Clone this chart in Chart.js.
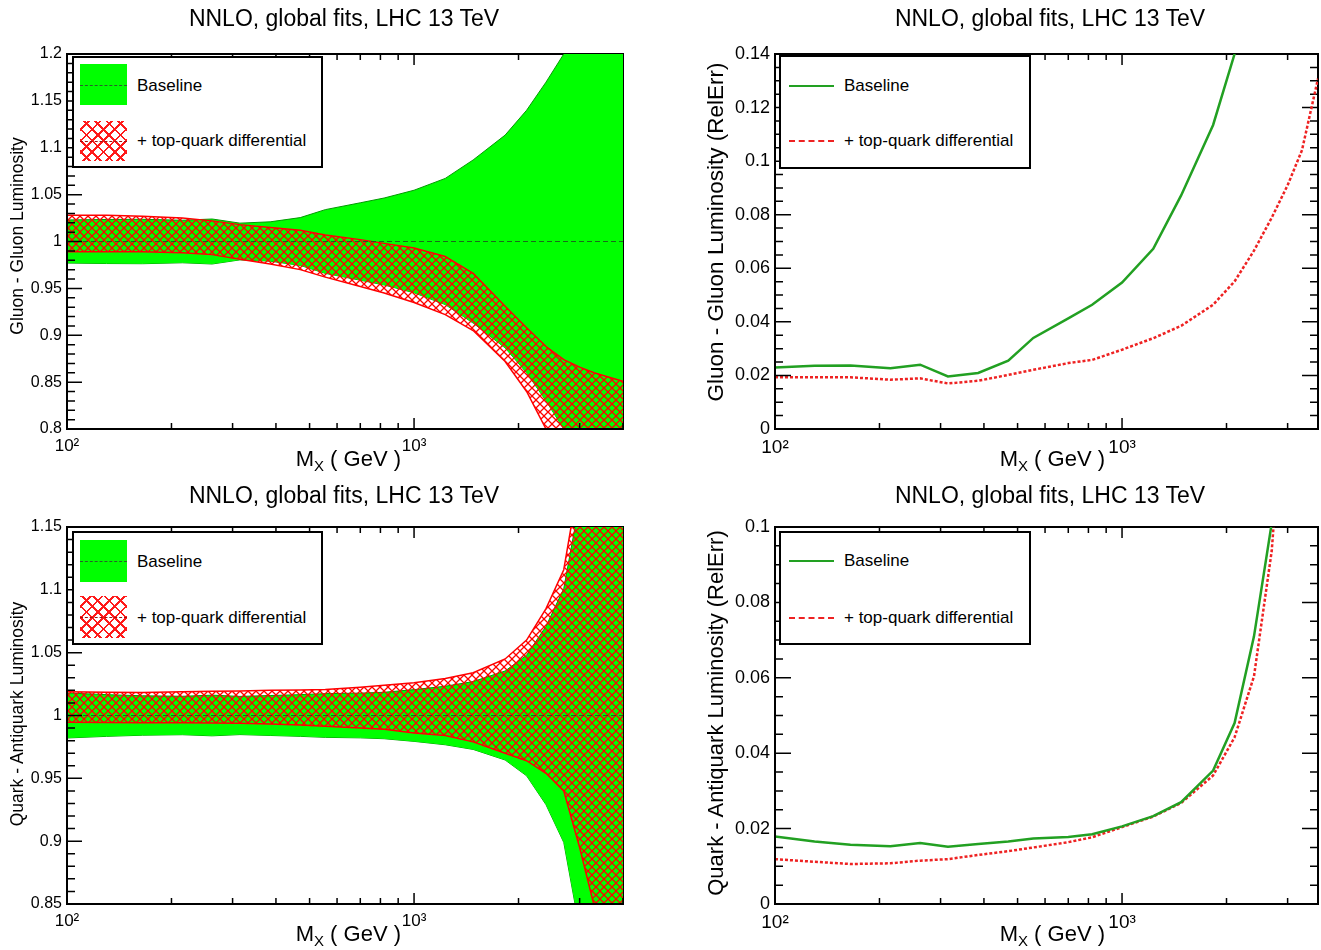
<!DOCTYPE html>
<html>
<head>
<meta charset="utf-8">
<script src="https://cdn.jsdelivr.net/npm/chart.js@4.4.1/dist/chart.umd.min.js"></script>
<style>
body { margin: 0; background: #fff; }
#page { position: relative; width: 1321px; height: 950px; overflow: hidden; font-family: "Liberation Sans", Arial, sans-serif; color: #000; }
canvas { position: absolute; }
.title { position: absolute; font-size: 23px; white-space: nowrap; transform: translate(-50%, -50%); }
.ytitle { position: absolute; white-space: nowrap; line-height: 1; transform: translate(-50%, -50%) rotate(-90deg); }
.xtitle { position: absolute; font-size: 22px; line-height: 22px; white-space: nowrap; }
.xtitle sub { font-size: 15px; vertical-align: -5px; }
.legend { position: absolute; border: 2px solid #000; background: #fff; box-sizing: border-box; }
.legend .txt { position: absolute; font-size: 17px; line-height: 1; white-space: nowrap; transform: translateY(-50%); }
.sw { position: absolute; }
.green { background: #00ff00; }
.hatch { background-color: #fff;
  background-image: repeating-linear-gradient(45deg, transparent 0 6px, #ff1a1a 6px 8px),
                    repeating-linear-gradient(-45deg, transparent 0 6px, #ff1a1a 6px 8px); }
.mid { position: absolute; left: 0; right: 0; top: 50%; height: 0; }
.ln { position: absolute; height: 0; }
</style>
</head>
<body>
<div id="page">
  <canvas id="tl" width="660" height="475" style="left:0;top:0"></canvas>
  <canvas id="tr" width="661" height="475" style="left:660px;top:0"></canvas>
  <canvas id="bl" width="660" height="475" style="left:0;top:475px"></canvas>
  <canvas id="br" width="661" height="475" style="left:660px;top:475px"></canvas>

  <div class="title" style="left:344px;top:18px">NNLO, global fits, LHC 13 TeV</div>
  <div class="title" style="left:1050px;top:18px">NNLO, global fits, LHC 13 TeV</div>
  <div class="title" style="left:344px;top:495px">NNLO, global fits, LHC 13 TeV</div>
  <div class="title" style="left:1050px;top:495px">NNLO, global fits, LHC 13 TeV</div>

  <div class="ytitle" style="left:18px;top:236px;font-size:17.5px">Gluon - Gluon Luminosity</div>
  <div class="ytitle" style="left:716px;top:232px;font-size:22.5px">Gluon - Gluon Luminosity (RelErr)</div>
  <div class="ytitle" style="left:18px;top:714px;font-size:17.5px">Quark - Antiquark Luminosity</div>
  <div class="ytitle" style="left:716px;top:713px;font-size:22px">Quark - Antiquark Luminosity (RelErr)</div>

  <div class="xtitle" style="right:920px;top:448px">M<sub>X</sub> ( GeV )</div>
  <div class="xtitle" style="right:216px;top:448px">M<sub>X</sub> ( GeV )</div>
  <div class="xtitle" style="right:920px;top:923px">M<sub>X</sub> ( GeV )</div>
  <div class="xtitle" style="right:216px;top:923px">M<sub>X</sub> ( GeV )</div>

  <div class="legend" style="left:72px;top:56px;width:251px;height:112px">
    <div class="sw green" style="left:6px;top:6px;width:47px;height:41px"><div class="mid" style="border-top:1px dashed #2b5e2b"></div></div>
    <div class="txt" style="left:63px;top:27px">Baseline</div>
    <div class="sw hatch" style="left:6px;top:63px;width:47px;height:40px"><div class="mid" style="border-top:1.5px dashed #a01010"></div></div>
    <div class="txt" style="left:63px;top:82px">+ top-quark differential</div>
  </div>
  <div class="legend" style="left:779px;top:55px;width:252px;height:114px">
    <div class="ln" style="left:8px;top:28px;width:45px;border-top:2px solid #22a022"></div>
    <div class="txt" style="left:63px;top:28px">Baseline</div>
    <div class="ln" style="left:8px;top:83px;width:45px;border-top:2px dashed #ee2222"></div>
    <div class="txt" style="left:63px;top:83px">+ top-quark differential</div>
  </div>
  <div class="legend" style="left:72px;top:531px;width:251px;height:114px">
    <div class="sw green" style="left:6px;top:7px;width:47px;height:42px"><div class="mid" style="border-top:1px dashed #2b5e2b"></div></div>
    <div class="txt" style="left:63px;top:28px">Baseline</div>
    <div class="sw hatch" style="left:6px;top:63px;width:47px;height:42px"><div class="mid" style="border-top:1.5px dashed #a01010"></div></div>
    <div class="txt" style="left:63px;top:84px">+ top-quark differential</div>
  </div>
  <div class="legend" style="left:779px;top:531px;width:252px;height:114px">
    <div class="ln" style="left:8px;top:27px;width:45px;border-top:2px solid #22a022"></div>
    <div class="txt" style="left:63px;top:27px">Baseline</div>
    <div class="ln" style="left:8px;top:84px;width:45px;border-top:2px dashed #ee2222"></div>
    <div class="txt" style="left:63px;top:84px">+ top-quark differential</div>
  </div>
</div>
<script>
// mass points (GeV)
const mx = [100, 130, 165, 215, 262, 315, 385, 470, 555, 700, 820, 1000, 1230, 1480, 1830, 2110, 2400, 2700, 3000, 3300, 3670, 4000];

// gluon-gluon luminosity ratio bands (top left)
const ggBaseUp = [1.023, 1.0235, 1.0237, 1.0227, 1.024, 1.0196, 1.021, 1.0255, 1.034, 1.0413, 1.0464, 1.0547, 1.0673, 1.087, 1.1135, 1.14, 1.17, 1.2, 1.235, 1.27, 1.32, 1.37];
const ggBaseLo = [0.977, 0.9765, 0.9763, 0.9773, 0.976, 0.9804, 0.979, 0.9745, 0.966, 0.9587, 0.9536, 0.9453, 0.9327, 0.913, 0.8865, 0.86, 0.83, 0.8, 0.765, 0.73, 0.68, 0.63];
const ggTopUp = [1.028, 1.028, 1.027, 1.025, 1.022, 1.018, 1.015, 1.012, 1.007, 1.002, 0.998, 0.993, 0.984, 0.966, 0.931, 0.908, 0.888, 0.874, 0.866, 0.86, 0.855, 0.851];
const ggTopLo = [0.989, 0.989, 0.989, 0.988, 0.986, 0.981, 0.976, 0.97, 0.962, 0.952, 0.945, 0.935, 0.922, 0.905, 0.872, 0.84, 0.8, 0.76, 0.72, 0.68, 0.63, 0.58];

// gluon-gluon relative errors (top right)
const ggErrBase = [0.023, 0.0236, 0.0237, 0.0227, 0.024, 0.0196, 0.0209, 0.0255, 0.034, 0.0413, 0.0464, 0.0547, 0.0673, 0.0872, 0.1135, 0.14, 0.17, 0.2, 0.235, 0.27, 0.32, 0.37];
const ggErrTop = [0.0193, 0.0193, 0.0193, 0.0184, 0.0189, 0.017, 0.018, 0.0202, 0.0221, 0.0246, 0.0258, 0.0296, 0.0339, 0.0385, 0.0464, 0.0551, 0.0666, 0.0789, 0.091, 0.1041, 0.1308, 0.16];

// quark-antiquark luminosity ratio bands (bottom left)
const qqBaseUp = [1.0179, 1.0166, 1.0157, 1.0153, 1.0162, 1.0152, 1.0159, 1.0166, 1.0174, 1.0178, 1.0185, 1.0206, 1.0233, 1.027, 1.0354, 1.048, 1.071, 1.101, 1.17, 1.25, 1.35, 1.45];
const qqBaseLo = [0.9821, 0.9834, 0.9843, 0.9847, 0.9838, 0.9848, 0.9841, 0.9834, 0.9826, 0.9822, 0.9815, 0.9794, 0.9767, 0.973, 0.9646, 0.952, 0.929, 0.899, 0.83, 0.75, 0.65, 0.55];
const qqTopUp = [1.0188, 1.0185, 1.0184, 1.0188, 1.0192, 1.0195, 1.02, 1.0203, 1.0206, 1.0225, 1.024, 1.026, 1.0295, 1.034, 1.045, 1.06, 1.085, 1.116, 1.19, 1.3, 1.4, 1.5];
const qqTopLo = [0.9947, 0.9945, 0.9942, 0.9942, 0.994, 0.9938, 0.9932, 0.9925, 0.9915, 0.99, 0.989, 0.986, 0.984, 0.979, 0.97, 0.964, 0.954, 0.94, 0.895, 0.849, 0.8, 0.75];

// quark-antiquark relative errors (bottom right)
const qqErrBase = [0.0179, 0.0166, 0.0157, 0.0153, 0.0162, 0.0152, 0.0159, 0.0166, 0.0174, 0.0178, 0.0185, 0.0206, 0.0233, 0.027, 0.0354, 0.048, 0.071, 0.101, 0.17, 0.25, 0.35, 0.45];
const qqErrTop = [0.0119, 0.0112, 0.0106, 0.0108, 0.0115, 0.0119, 0.013, 0.014, 0.015, 0.0164, 0.0177, 0.0204, 0.0232, 0.0268, 0.0341, 0.0442, 0.0604, 0.0937, 0.15, 0.22, 0.32, 0.42];

const xTickVals = [100, 200, 300, 400, 500, 600, 700, 800, 900, 1000, 2000, 3000, 4000];
const xLabels = { 100: '10\u00b2', 1000: '10\u00b3' };

const FONT = '"Liberation Sans", Arial, sans-serif';
const pts = ys => mx.map((x, i) => ({ x: x, y: ys[i] }));

const hatch = (() => {
    const c = document.createElement('canvas');
    c.width = 8; c.height = 8;
    const g = c.getContext('2d');
    g.strokeStyle = '#ff0000';
    g.lineWidth = 1.3;
    g.beginPath();
    g.moveTo(-1, -1); g.lineTo(9, 9);
    g.moveTo(9, -1); g.lineTo(-1, 9);
    g.stroke();
    return g.createPattern(c, 'repeat');
})();

// ROOT style frame: ticks pointing inwards on all four sides
function drawSides(chart, o, sides) {
    const ctx = chart.ctx, a = chart.chartArea;
    const xs = chart.scales.x, ys = chart.scales.y;
    ctx.save();
    ctx.strokeStyle = '#000';
    sides.forEach(side => {
        ctx.lineWidth = 2;
        ctx.beginPath();
        if (side === 'top') { ctx.moveTo(a.left - 1, a.top); ctx.lineTo(a.right + 1, a.top); }
        if (side === 'bottom') { ctx.moveTo(a.left - 1, a.bottom); ctx.lineTo(a.right + 1, a.bottom); }
        if (side === 'left') { ctx.moveTo(a.left, a.top - 1); ctx.lineTo(a.left, a.bottom + 1); }
        if (side === 'right') { ctx.moveTo(a.right, a.top - 1); ctx.lineTo(a.right, a.bottom + 1); }
        ctx.stroke();
        ctx.lineWidth = 1.5;
        ctx.beginPath();
        if (side === 'top' || side === 'bottom') {
            const y0 = side === 'top' ? a.top : a.bottom;
            const dir = side === 'top' ? 1 : -1;
            xTickVals.forEach(v => {
                if (v < xs.min || v > xs.max) return;
                const px = xs.getPixelForValue(v);
                const len = xLabels[v] ? 11 : 6;
                ctx.moveTo(px, y0);
                ctx.lineTo(px, y0 + dir * len);
            });
        } else {
            const x0 = side === 'left' ? a.left : a.right;
            const dir = side === 'left' ? 1 : -1;
            for (let k = 0; ; k++) {
                const v = o.yMin + k * o.yStep;
                if (v > o.yMax + 1e-9) break;
                const q = v / o.yMajor;
                const len = Math.abs(q - Math.round(q)) < 1e-6 ? o.majLen : o.minLen;
                const py = ys.getPixelForValue(v);
                ctx.moveTo(x0, py);
                ctx.lineTo(x0 + dir * len, py);
            }
        }
        ctx.stroke();
    });
    ctx.restore();
}

const rootFrame = {
    id: 'rootFrame',
    beforeDatasetsDraw(chart, args, o) { drawSides(chart, o, ['top', 'right']); },
    afterDatasetsDraw(chart, args, o) { drawSides(chart, o, ['left', 'bottom']); }
};

function makeChart(id, datasets, cfg) {
    return new Chart(document.getElementById(id), {
        type: 'line',
        data: { datasets: datasets },
        options: {
            responsive: false,
            animation: false,
            devicePixelRatio: 1,
            layout: { padding: { left: 0, top: cfg.top, right: cfg.right, bottom: 0 } },
            elements: { point: { radius: 0 }, line: { tension: 0 } },
            plugins: {
                legend: { display: false },
                tooltip: { enabled: false },
                rootFrame: cfg.frame
            },
            scales: {
                x: {
                    type: 'logarithmic',
                    min: 100,
                    max: cfg.xMax,
                    grid: { display: false, drawTicks: false },
                    border: { display: false },
                    afterBuildTicks: s => { s.ticks = xTickVals.filter(v => v <= cfg.xMax).map(v => ({ value: v })); },
                    afterFit: s => { s.height = 46; },
                    ticks: {
                        autoSkip: false,
                        maxRotation: 0,
                        padding: 7,
                        color: '#000',
                        font: { family: FONT, size: cfg.xFont },
                        callback: v => xLabels[v] || ''
                    }
                },
                y: {
                    min: cfg.frame.yMin,
                    max: cfg.frame.yMax,
                    grid: { display: false, drawTicks: false },
                    border: { display: false },
                    afterFit: s => { s.width = cfg.yWidth; },
                    ticks: {
                        stepSize: cfg.frame.yMajor,
                        padding: 5,
                        color: '#000',
                        font: { family: FONT, size: cfg.yFont },
                        callback: v => String(parseFloat(v.toFixed(4)))
                    }
                }
            }
        },
        plugins: [rootFrame]
    });
}

function bandSets(baseUp, baseLo, topUp, topLo) {
    return [
        { data: pts(topUp), borderColor: '#ff0000', borderWidth: 1.5, fill: '+1', backgroundColor: hatch, order: 1, clip: 0 },
        { data: pts(topLo), borderColor: '#ff0000', borderWidth: 1.5, fill: false, order: 1, clip: 0 },
        { data: pts(baseUp), borderColor: '#009a00', borderWidth: 1, fill: '+1', backgroundColor: '#00ff00', order: 2, clip: 0 },
        { data: pts(baseLo), borderColor: '#009a00', borderWidth: 1, fill: false, order: 2, clip: 0 },
        { data: [{ x: 100, y: 1 }, { x: 4000, y: 1 }], borderColor: 'rgba(30,80,30,0.85)', borderWidth: 1, borderDash: [5, 3], fill: false, order: 0, clip: 0 }
    ];
}

function errSets(base, top) {
    return [
        { data: pts(base), borderColor: '#22a022', borderWidth: 2.5, fill: false, order: 0 },
        { data: pts(top), borderColor: '#ee2222', borderWidth: 2.5, borderDash: [3, 2], fill: false, order: 1 }
    ];
}

makeChart('tl', bandSets(ggBaseUp, ggBaseLo, ggTopUp, ggTopLo), {
    top: 54, right: 37, yWidth: 67, xMax: 4000, xFont: 17, yFont: 16,
    frame: { yMin: 0.8, yMax: 1.2, yMajor: 0.05, yStep: 0.01, majLen: 15, minLen: 8 }
});
makeChart('tr', errSets(ggErrBase, ggErrTop), {
    top: 54, right: 3, yWidth: 115, xMax: 3670, xFont: 19, yFont: 18,
    frame: { yMin: 0, yMax: 0.14, yMajor: 0.02, yStep: 0.005, majLen: 16, minLen: 8 }
});
makeChart('bl', bandSets(qqBaseUp, qqBaseLo, qqTopUp, qqTopLo), {
    top: 52, right: 37, yWidth: 67, xMax: 4000, xFont: 17, yFont: 16,
    frame: { yMin: 0.85, yMax: 1.15, yMajor: 0.05, yStep: 0.01, majLen: 15, minLen: 8 }
});
makeChart('br', errSets(qqErrBase, qqErrTop), {
    top: 52, right: 3, yWidth: 115, xMax: 3670, xFont: 19, yFont: 18,
    frame: { yMin: 0, yMax: 0.1, yMajor: 0.02, yStep: 0.005, majLen: 16, minLen: 8 }
});
</script>
</body>
</html>
